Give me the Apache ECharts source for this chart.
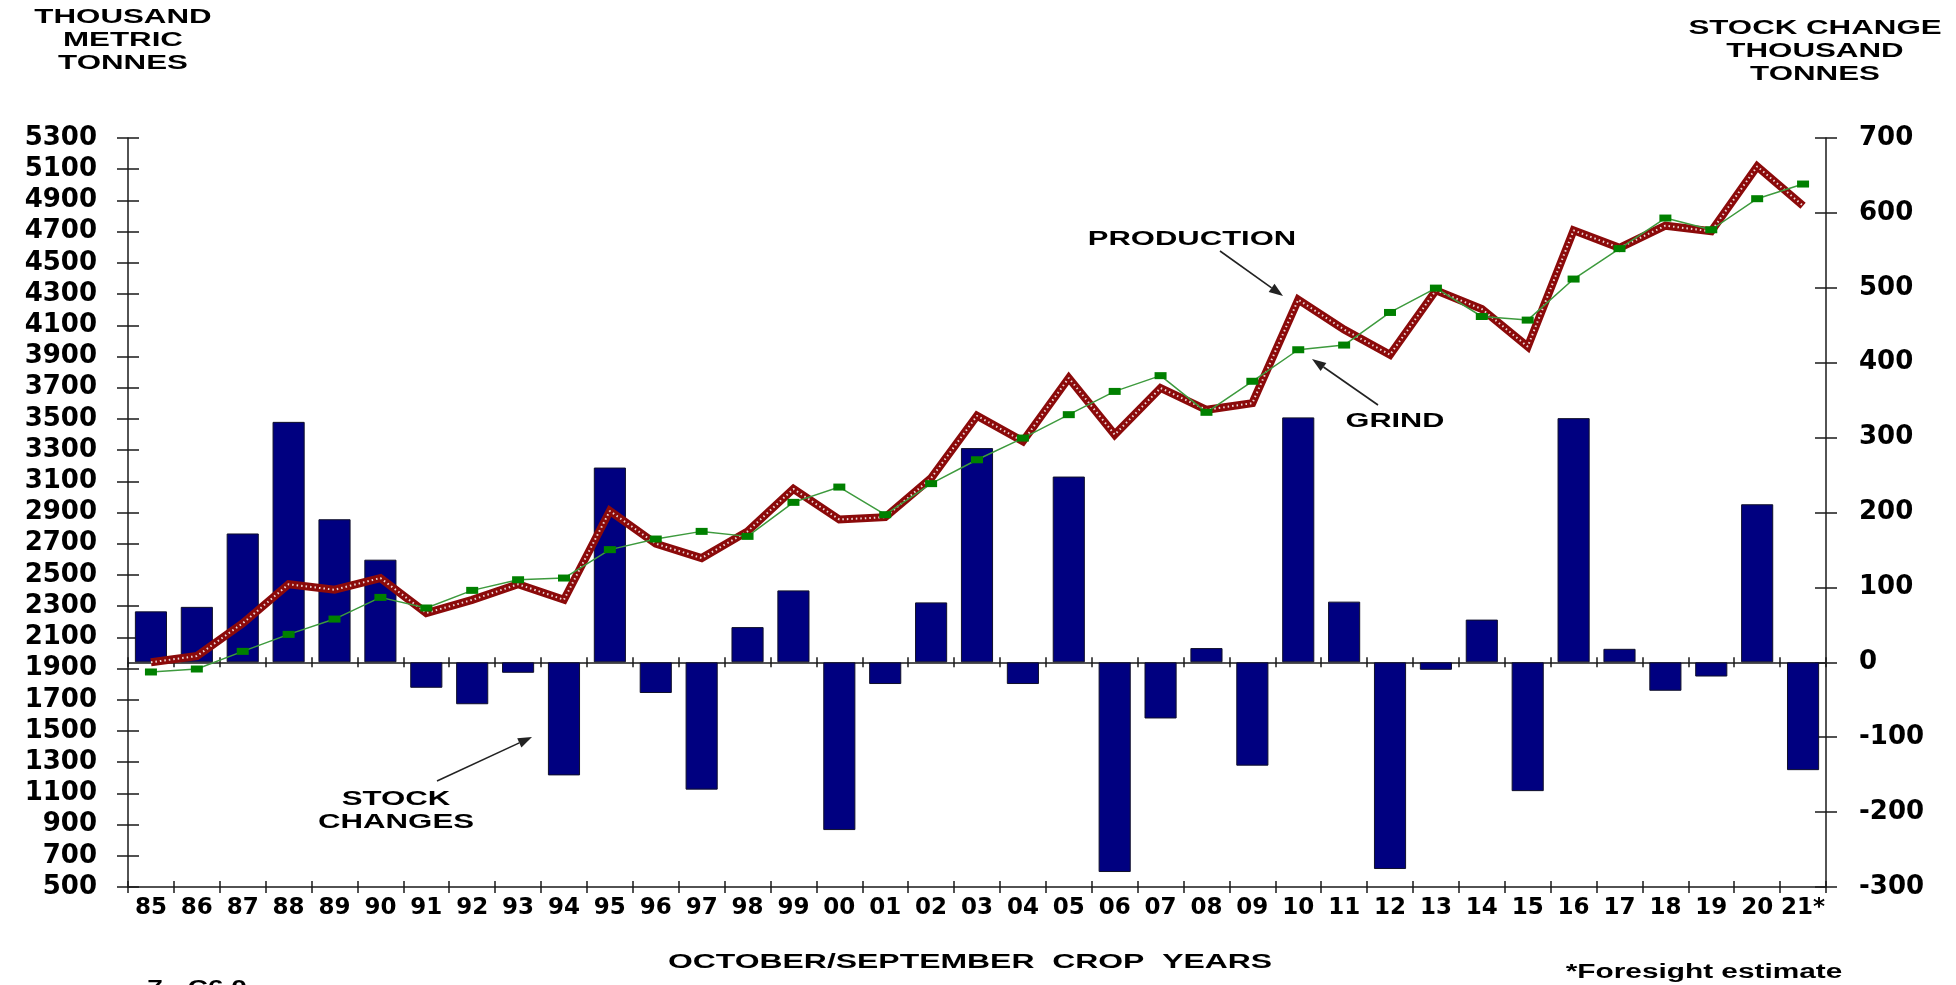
<!DOCTYPE html>
<html>
<head>
<meta charset="utf-8">
<script src="https://cdn.jsdelivr.net/npm/echarts@6/dist/echarts.min.js"></script>
<style>
html,body{margin:0;padding:0;background:#fff;}
#chart{width:1956px;height:985px;}
</style>
</head>
<body>
<div id="chart"></div>
<script>
// ---- data ----
const years = ['85','86','87','88','89','90','91','92','93','94','95','96','97','98','99','00','01','02','03','04','05','06','07','08','09','10','11','12','13','14','15','16','17','18','19','20','21*'];
const stockChange = [68, 74, 172, 321, 191, 137, -34, -56, -14, -151, 260, -41, -170, 47, 96, -224, -29, 80, 286, -29, 248, -280, -75, 19, -138, 327, 81, -276, -10, 57, -172, 326, 18, -38, -19, 211, -144];
const production = [1940, 1980, 2190, 2440, 2405, 2480, 2256, 2340, 2440, 2341, 2910, 2700, 2608, 2779, 3051, 2855, 2870, 3120, 3520, 3356, 3762, 3399, 3698, 3558, 3601, 4264, 4072, 3911, 4324, 4204, 3963, 4708, 4596, 4738, 4702, 5118, 4866];
const grind = [1878, 1897, 2010, 2119, 2217, 2356, 2288, 2401, 2469, 2480, 2662, 2730, 2779, 2747, 2965, 3063, 2886, 3085, 3238, 3377, 3527, 3676, 3777, 3542, 3741, 3943, 3973, 4182, 4338, 4156, 4133, 4396, 4591, 4787, 4712, 4911, 5005];
const leftAxisRange = [500, 5300];
const leftAxisStep = 200;
const rightAxisRange = [-300, 700];
const rightAxisStep = 100;

// ---- styles ----
const AX = '#1a1a1a';
const axisFont = {fontFamily: 'DejaVu Sans', fontWeight: 'bold', color: '#000'};
const TF = "bold 21px 'Liberation Sans', Arial, sans-serif";

function txt(text, x, y, sx, font, lh) {
  return {type: 'text', x: x, y: y, scaleX: sx, z: 100,
    style: {text: text, font: font || TF, fill: '#000', align: 'center', verticalAlign: 'middle', lineHeight: lh || 23}};
}
function arrow(x1, y1, x2, y2) {
  const dx = x2 - x1, dy = y2 - y1, L = Math.hypot(dx, dy), ux = dx / L, uy = dy / L;
  const hl = 14, hw = 5;
  const bx = x2 - ux * hl, by = y2 - uy * hl;
  return [
    {type: 'line', z: 100, shape: {x1: x1, y1: y1, x2: bx, y2: by}, style: {stroke: '#222', lineWidth: 1.6}},
    {type: 'polygon', z: 100, shape: {points: [[x2, y2], [bx - uy * hw, by + ux * hw], [bx + uy * hw, by - ux * hw]]}, style: {fill: '#222'}}
  ];
}

const chart = echarts.init(document.getElementById('chart'));
const catAxis = (extra) => Object.assign({
  type: 'category', data: years, position: 'bottom', boundaryGap: true
}, extra);
const plain = (v) => String(v);

const option = {
  backgroundColor: '#fff',
  animation: false,
  grid: {left: 128, right: 130, top: 138, bottom: 98, containLabel: false},
  xAxis: [
    catAxis({
      axisLine: {show: true, onZero: false, lineStyle: {color: AX, width: 1.5}},
      axisTick: {show: true, length: 6, lineStyle: {color: AX, width: 1.5}},
      axisLabel: Object.assign({interval: 0, margin: 10, fontSize: 23, hideOverlap: false}, axisFont),
      splitLine: {show: false}
    }),
    catAxis({
      axisLine: {show: false, onZero: false},
      axisTick: {show: true, inside: true, length: 6, lineStyle: {color: AX, width: 1.5}},
      axisLabel: {show: false}, splitLine: {show: false}
    }),
    catAxis({
      axisLine: {show: true, onZero: true, onZeroAxisIndex: 1, lineStyle: {color: AX, width: 1.5}},
      axisTick: {show: true, length: 5, lineStyle: {color: AX, width: 1.5}},
      axisLabel: {show: false}, splitLine: {show: false}
    }),
    catAxis({
      axisLine: {show: false, onZero: true, onZeroAxisIndex: 1},
      axisTick: {show: true, inside: true, length: 5, lineStyle: {color: AX, width: 1.5}},
      axisLabel: {show: false}, splitLine: {show: false}
    })
  ],
  yAxis: [
    {type: 'value', position: 'left', min: leftAxisRange[0], max: leftAxisRange[1], interval: leftAxisStep,
      axisLine: {show: true, lineStyle: {color: AX, width: 1.5}},
      axisTick: {show: true, length: 11, lineStyle: {color: AX, width: 1.5}},
      axisLabel: Object.assign({margin: 31, fontSize: 26, formatter: plain}, axisFont),
      splitLine: {show: false}},
    {type: 'value', position: 'right', min: rightAxisRange[0], max: rightAxisRange[1], interval: rightAxisStep,
      axisLine: {show: true, lineStyle: {color: AX, width: 1.5}},
      axisTick: {show: true, length: 11, lineStyle: {color: AX, width: 1.5}},
      axisLabel: Object.assign({margin: 33, fontSize: 26, formatter: plain}, axisFont),
      splitLine: {show: false}},
    {type: 'value', position: 'left', min: leftAxisRange[0], max: leftAxisRange[1], interval: leftAxisStep,
      axisLine: {show: false},
      axisTick: {show: true, inside: true, length: 11, lineStyle: {color: AX, width: 1.5}},
      axisLabel: {show: false}, splitLine: {show: false}},
    {type: 'value', position: 'right', min: rightAxisRange[0], max: rightAxisRange[1], interval: rightAxisStep,
      axisLine: {show: false},
      axisTick: {show: true, inside: true, length: 11, lineStyle: {color: AX, width: 1.5}},
      axisLabel: {show: false}, splitLine: {show: false}}
  ],
  series: [
    {name: 'Stock changes', type: 'bar', xAxisIndex: 0, yAxisIndex: 1, data: stockChange,
      barWidth: '70%', z: 1,
      itemStyle: {color: '#000080', borderColor: '#10102a', borderWidth: 1}},
    {name: 'Production', type: 'line', xAxisIndex: 0, yAxisIndex: 0, data: production,
      symbol: 'none', z: 3,
      lineStyle: {color: '#8B0A0A', width: 8, join: 'miter'}},
    {name: 'Production pattern', type: 'line', xAxisIndex: 0, yAxisIndex: 0, data: production,
      symbol: 'none', z: 4, silent: true,
      lineStyle: {color: '#ffffff', width: 2, type: [1.5, 3], opacity: 0.85}},
    {name: 'Grind', type: 'line', xAxisIndex: 0, yAxisIndex: 0, data: grind,
      symbol: 'rect', symbolSize: [12, 7], z: 5,
      itemStyle: {color: '#008000'},
      lineStyle: {color: '#3d9a3d', width: 1.5}}
  ],
  graphic: [
    txt('THOUSAND\nMETRIC\nTONNES', 123, 40, 1.49),
    txt('STOCK CHANGE\nTHOUSAND\nTONNES', 1815, 51, 1.49),
    txt('PRODUCTION', 1192, 239, 1.55, "bold 20px 'Liberation Sans', Arial, sans-serif"),
    txt('GRIND', 1395, 421, 1.46),
    txt('STOCK\nCHANGES', 396, 811, 1.56, "bold 20px 'Liberation Sans', Arial, sans-serif"),
    txt('OCTOBER/SEPTEMBER  CROP  YEARS', 970, 962, 1.52),
    txt('*Foresight estimate', 1704, 972, 1.49, "bold 20px 'Liberation Sans', Arial, sans-serif"),
    txt('7 - C6.0', 197, 988, 1.4, "bold 20px 'Liberation Sans', Arial, sans-serif")
  ].concat(arrow(1220, 251, 1283, 296))
   .concat(arrow(1378, 405, 1312, 359))
   .concat(arrow(437, 781, 532, 737))
};
chart.setOption(option);
</script>
</body>
</html>
